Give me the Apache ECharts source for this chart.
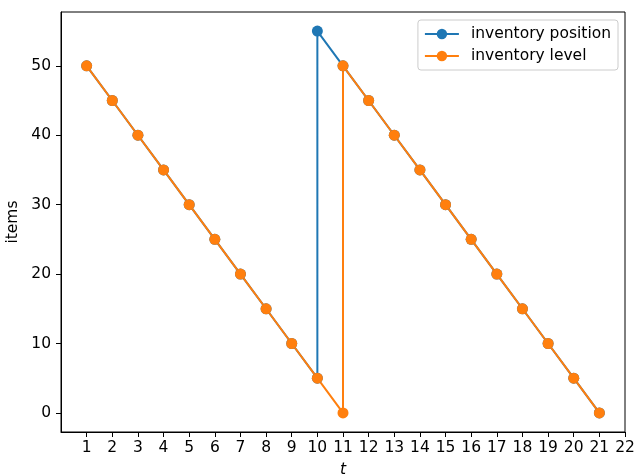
<!DOCTYPE html>
<html>
<head>
<meta charset="utf-8">
<script src="https://cdn.jsdelivr.net/npm/echarts@6/dist/echarts.min.js"></script>
<style>html,body{margin:0;padding:0;background:#fff}#c{width:636px;height:474px}</style>
</head>
<body>
<div id="c"></div>
<script>
var xTicks = [1,2,3,4,5,6,7,8,9,10,11,12,13,14,15,16,17,18,19,20,21,22];
var yTicks = [0,10,20,30,40,50];
var tPosition = [1,2,3,4,5,6,7,8,9,10,10,11,12,13,14,15,16,17,18,19,20,21];
var position  = [50,45,40,35,30,25,20,15,10,5,55,50,45,40,35,30,25,20,15,10,5,0];
var tLevel    = [1,2,3,4,5,6,7,8,9,10,11,11,12,13,14,15,16,17,18,19,20,21];
var level     = [50,45,40,35,30,25,20,15,10,5,0,50,45,40,35,30,25,20,15,10,5,0];
var seriesNames = ['inventory position','inventory level'];

function pairs(xs, ys){ return xs.map(function(x,i){ return [x, ys[i]]; }); }

var font = 'DejaVu Sans';
var fs = 15.5;
var chart = echarts.init(document.getElementById('c'), null, {renderer:'canvas'});
chart.setOption({
  animation:false,
  backgroundColor:'#fff',
  textStyle:{fontFamily:font},
  grid:{left:61, right:11, top:12, bottom:42, show:true, borderColor:'#000', borderWidth:1,
        containLabel:false, outerBoundsMode:'none'},
  legend:{
    orient:'vertical', right:18, top:20,
    data:seriesNames,
    itemWidth:34, itemHeight:13, itemGap:6,
    padding:[6,7,6,6],
    borderColor:'#cccccc', borderWidth:1, borderRadius:3, backgroundColor:'#fff',
    textStyle:{fontFamily:font, fontSize:fs, color:'#000', padding:[0,0,0,7]}
  },
  xAxis:{
    type:'value', min:0, max:22,
    name:'t', nameLocation:'middle', nameGap:30, nameMoveOverlap:false,
    nameTextStyle:{fontFamily:font, fontSize:fs, fontStyle:'italic', color:'#000'},
    axisLine:{show:true, onZero:false, lineStyle:{color:'#000', width:1}},
    axisTick:{show:true, length:5, lineStyle:{color:'#000'}, customValues:xTicks},
    axisLabel:{fontFamily:font, fontSize:fs, color:'#000', margin:8, customValues:xTicks},
    splitLine:{show:false}
  },
  yAxis:{
    type:'value', min:-2.75, max:57.75,
    name:'items', nameLocation:'middle', nameGap:40, nameRotate:90, nameMoveOverlap:false,
    nameTextStyle:{fontFamily:font, fontSize:fs, color:'#000'},
    axisLine:{show:true, onZero:false, lineStyle:{color:'#000', width:1}},
    axisTick:{show:true, length:5, lineStyle:{color:'#000'}, customValues:yTicks},
    axisLabel:{fontFamily:font, fontSize:fs, color:'#000', margin:10, customValues:yTicks},
    splitLine:{show:false}
  },
  series:[
    {name:seriesNames[0], type:'line', data:pairs(tPosition, position),
     symbol:'circle', symbolSize:11, showAllSymbol:true,
     itemStyle:{color:'#1f77b4'}, lineStyle:{color:'#1f77b4', width:2}},
    {name:seriesNames[1], type:'line', data:pairs(tLevel, level),
     symbol:'circle', symbolSize:11, showAllSymbol:true,
     itemStyle:{color:'#ff7f0e'}, lineStyle:{color:'#ff7f0e', width:2}}
  ]
});
</script>
</body>
</html>
